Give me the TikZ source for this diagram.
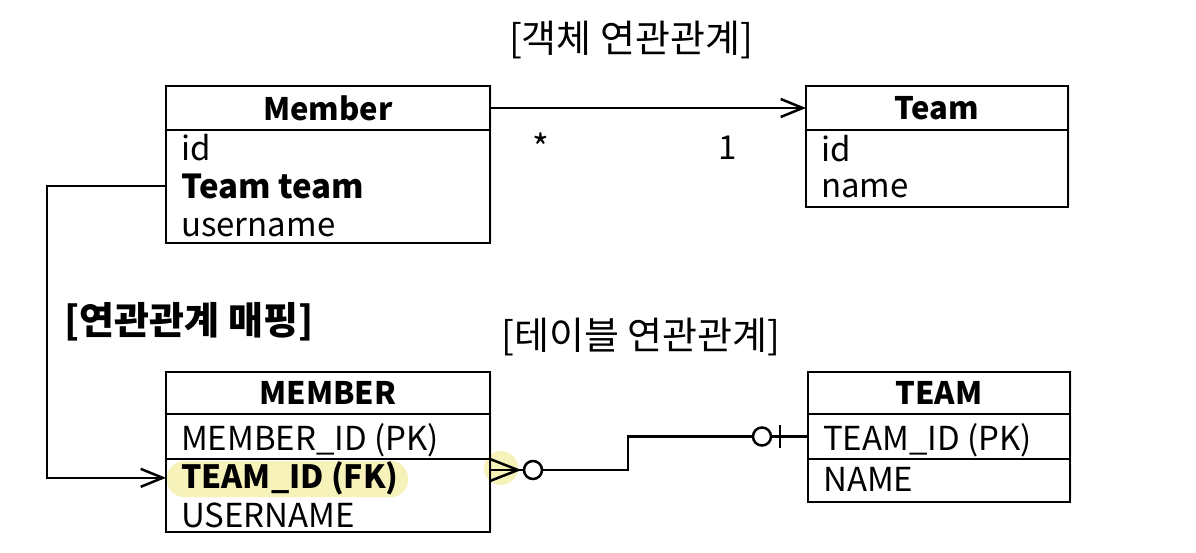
\documentclass[tikz,border=0pt]{standalone}
\usepackage{fontspec}
\setmainfont{Noto Sans CJK KR}
\usetikzlibrary{arrows.meta,shadows}
\definecolor{hlyellow}{RGB}{246,242,186}

\begin{document}
\begin{tikzpicture}[x=1pt,y=-1pt,
  box/.style={draw,line width=2.5pt,fill=white,inner sep=0pt,outer sep=0pt,
    drop shadow={opacity=0.15,shadow xshift=1.5pt,shadow yshift=1.5pt}},
  hdr/.style={box,font=\fontsize{31}{31}\selectfont\bfseries},
  field/.style={anchor=base west,inner sep=0pt,font=\fontsize{33}{33}\selectfont},
  title/.style={inner sep=0pt,font=\fontsize{38}{38}\selectfont},
  conn/.style={line width=2.5pt},
  oarrow/.style={conn,-{Straight Barb[length=22pt,width=18pt,line width=2.5pt]}}]
  \useasboundingbox (0,0) rectangle (1196,552);

  % object model
  \node[hdr,minimum width=324pt,minimum height=44pt] (member) at (328,108) {Member};
  \node[box,minimum width=324pt,minimum height=113pt,anchor=north] (memberBody) at (member.south) {};
  \node[hdr,minimum width=262pt,minimum height=44pt] (team) at (937,108) {Team};
  \node[box,minimum width=262pt,minimum height=77pt,anchor=north] (teamBody) at (team.south) {};

  % table model
  \node[hdr,minimum width=324pt,minimum height=42pt] (memberTbl) at (328,393) {MEMBER};
  \node[box,minimum width=324pt,minimum height=45pt,anchor=north] (memberPkRow) at (memberTbl.south) {};
  \node[box,minimum width=324pt,minimum height=73pt,anchor=north] (memberRest) at (memberPkRow.south) {};
  \node[hdr,minimum width=262pt,minimum height=42pt] (teamTbl) at (939,393) {TEAM};
  \node[box,minimum width=262pt,minimum height=45pt,anchor=north] (teamPkRow) at (teamTbl.south) {};
  \node[box,minimum width=262pt,minimum height=43pt,anchor=north] (teamRest) at (teamPkRow.south) {};

  % highlight
  \fill[hlyellow,blend mode=multiply,rounded corners=17pt] (167,461) rectangle (408,497);
  \fill[hlyellow,blend mode=multiply] (501,468) circle (17);

  % fields
  \node[field] (memberId) at (181,160) {id};
  \node[field,font=\fontsize{33}{33}\selectfont\bfseries] (memberTeam) at (181,198) {Team team};
  \node[field] (memberName) at (181,236) {username};
  \node[field] (teamId) at (821,161) {id};
  \node[field] (teamName) at (821,197) {name};
  \node[field] (memberPk) at (181,450) {MEMBER\_ID (PK)};
  \node[field,font=\fontsize{32}{32}\selectfont\bfseries] (memberFk) at (181,488) {TEAM\_ID (FK)};
  \node[field] (memberUser) at (181,527) {USERNAME};
  \node[field] (teamPk) at (823,450) {TEAM\_ID (PK)};
  \node[field] (teamCol) at (823,491) {NAME};

  % titles
  \node[title] (objTitle) at (631,40) {[객체 연관관계]};
  \node[title,font=\fontsize{38}{38}\selectfont\bfseries] (mapTitle) at (189,322) {[연관관계 매핑]};
  \node[title] (tblTitle) at (641,337) {[테이블 연관관계]};
  \node[title,font=\fontsize{36}{36}\selectfont] (many) at (541,147) {*};
  \node[title,font=\fontsize{33}{33}\selectfont] (one) at (728,148) {1};

  % connectors
  \draw[oarrow] (member) -- (team);
  \draw[oarrow] (memberBody.west |- memberTeam.west) -- ++(-119,0) |- (memberRest.west |- memberFk.west);

  \coordinate (fkEnd) at (490,470);
  \draw[conn] (fkEnd) -- (628,470) |- (teamPkRow.west);
  \draw[conn] (490,459) -- (518,470) -- (490,481);
  \draw[conn,fill=white] (533,470) circle (9);
  \draw[conn,fill=white] (762,436.5) circle (9);
  \draw[conn] (780,425) -- (780,448);
\end{tikzpicture}
\end{document}
